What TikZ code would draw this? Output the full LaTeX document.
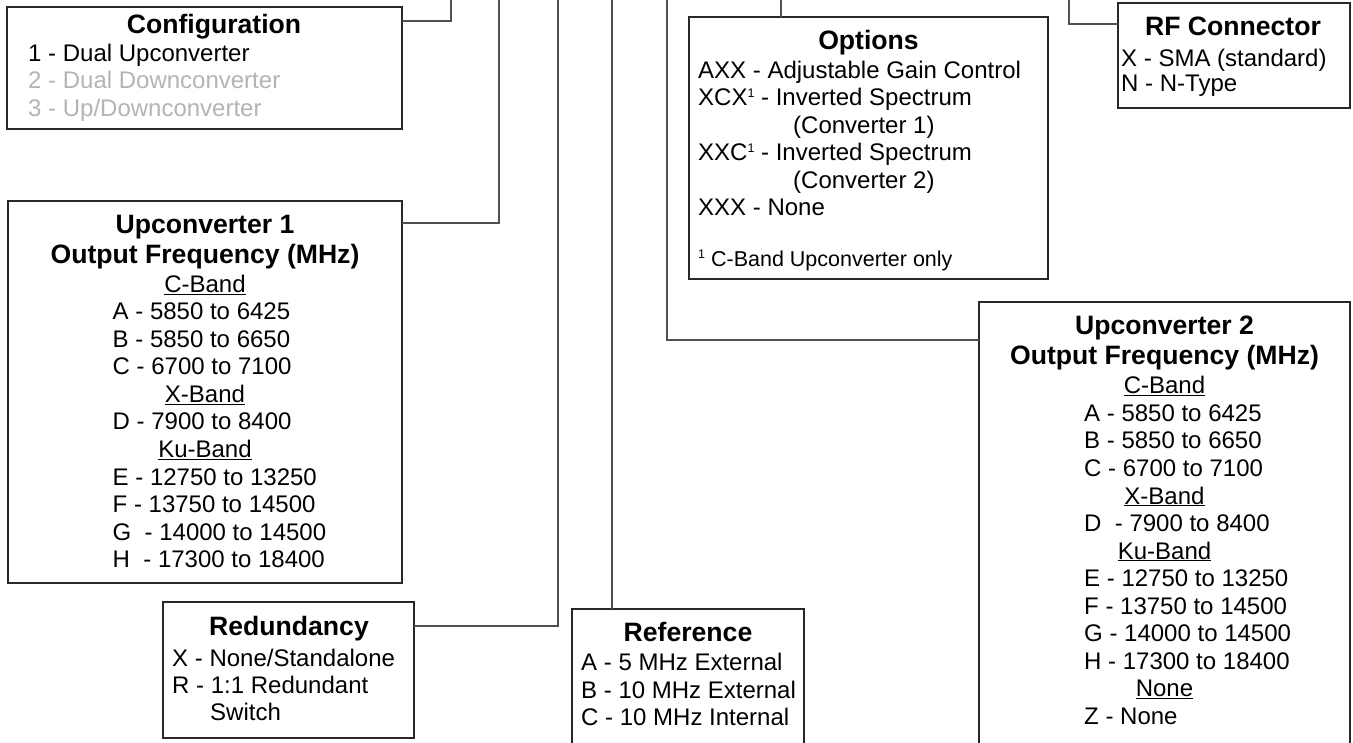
\documentclass[tikz,border=0pt]{standalone}
\usepackage{fontspec}
\setmainfont{Liberation Sans}
\definecolor{boxline}{RGB}{40,40,40}
\definecolor{connline}{RGB}{80,80,80}
\definecolor{dimtext}{RGB}{180,180,180}
\newcommand{\supone}{\raisebox{8.6pt}{\fontsize{12.5}{12.5}\selectfont 1}}
\begin{document}
\begin{tikzpicture}[x=1pt,y=-1pt,
  box/.style={draw=boxline,line width=1.3pt,inner sep=0pt,outer sep=0pt,anchor=north west,fill=none},
  conn/.style={draw=connline,line width=1.3pt},
  txt/.style={font=\fontsize{24}{27.5}\selectfont,inner sep=0pt,anchor=base west},
  ctr/.style={font=\fontsize{24}{27.5}\selectfont,inner sep=0pt,anchor=base},
  ttl/.style={font=\fontsize{26.6}{30}\selectfont\bfseries,inner sep=0pt,anchor=base},
  fnote/.style={font=\fontsize{21.5}{25}\selectfont,inner sep=0pt,anchor=base west},
  dim/.style={text=dimtext}]
\useasboundingbox (0,0) rectangle (1353,743);
\clip (0,0) rectangle (1353,743);
\fill[white] (0,0) rectangle (1353,743);

% boxes
\node[box,minimum width=395pt,minimum height=122pt] (cfg) at (7,7) {};
\node[box,minimum width=394pt,minimum height=382pt] (up1) at (8,201) {};
\node[box,minimum width=251pt,minimum height=136pt] (red) at (163,602) {};
\node[box,minimum width=232pt,minimum height=150pt] (ref) at (572,609) {};
\node[box,minimum width=371pt,minimum height=460pt] (up2) at (979,302) {};
\node[box,minimum width=359pt,minimum height=262pt] (opt) at (689,17) {};
\node[box,minimum width=232pt,minimum height=105pt] (rf) at (1118,3) {};

% free ends of connectors at the top edge
\coordinate (tcfg) at (451,0);
\coordinate (tup1) at (499,0);
\coordinate (tred) at (558,0);
\coordinate (tref) at (612,0);
\coordinate (tup2) at (667,0);
\coordinate (topt) at (781,0);
\coordinate (trf) at (1069,0);

% connectors
\draw[conn] ([yshift=-14pt]cfg.north east) -| (tcfg);
\draw[conn] ([yshift=-22pt]up1.north east) -| (tup1);
\draw[conn] ([yshift=-24pt]red.north east) -| (tred);
\draw[conn] (tref |- ref.north) -- (tref);
\draw[conn] ([yshift=-38pt]up2.north west) -| (tup2);
\draw[conn] (topt |- opt.north) -- (topt);
\draw[conn] ([yshift=-21pt]rf.north west) -| (trf);

% Configuration
\node[ttl] (cfgT) at (214,33.5) {Configuration};
\node[txt] (cfg1) at (28,61.5) {1 - Dual Upconverter};
\node[txt,dim] (cfg2) at (28,89) {2 - Dual Downconverter};
\node[txt,dim] (cfg3) at (28,116.5) {3 - Up/Downconverter};

% Upconverter 1
\node[ttl] (u1T) at (205,234) {Upconverter 1};
\node[ttl] (u1T2) at (205,264) {Output Frequency (MHz)};
\node[ctr] (u1h1) at (205,292.5) {\underline{C-Band}};
\node[txt] (u1a) at (112.5,320) {A - 5850 to 6425};
\node[txt] (u1b) at (112.5,347.5) {B - 5850 to 6650};
\node[txt] (u1c) at (112.5,375) {C - 6700 to 7100};
\node[ctr] (u1h2) at (205,402.5) {\underline{X-Band}};
\node[txt] (u1d) at (112.5,430) {D - 7900 to 8400};
\node[ctr] (u1h3) at (205,457.5) {\underline{Ku-Band}};
\node[txt] (u1e) at (112.5,485) {E - 12750 to 13250};
\node[txt] (u1f) at (112.5,512.5) {F - 13750 to 14500};
\node[txt] (u1g) at (112.5,540) {G~ - 14000 to 14500};
\node[txt] (u1hh) at (112.5,567.5) {H~ - 17300 to 18400};

% Redundancy
\node[ttl] (redT) at (289,635) {Redundancy};
\node[txt] (red1) at (172,666) {X - None/Standalone};
\node[txt] (red2) at (172,693.5) {R - 1:1 Redundant};
\node[txt] (red3) at (210,720) {Switch};

% Reference
\node[ttl] (refT) at (688,641.5) {Reference};
\node[txt] (ref1) at (581,670.5) {A - 5 MHz External};
\node[txt] (ref2) at (581,698) {B - 10 MHz External};
\node[txt] (ref3) at (581,725.5) {C - 10 MHz Internal};

% Options
\node[ttl] (optT) at (868.5,50) {Options};
\node[txt] (opt1) at (698,78.5) {AXX - Adjustable Gain Control};
\node[txt] (opt2) at (698,106) {XCX\supone{} - Inverted Spectrum};
\node[txt] (opt3) at (793,133.5) {(Converter 1)};
\node[txt] (opt4) at (698,161) {XXC\supone{} - Inverted Spectrum};
\node[txt] (opt5) at (793,188.5) {(Converter 2)};
\node[txt] (opt6) at (698,215.5) {XXX - None};
\node[fnote] (optn) at (698,266.5) {\raisebox{7.5pt}{\fontsize{12.5}{12.5}\selectfont 1} C-Band Upconverter only};

% RF Connector
\node[ttl] (rfT) at (1233,36) {RF Connector};
\node[txt] (rf1) at (1121,66.5) {X - SMA (standard)};
\node[txt] (rf2) at (1121,91.5) {N - N-Type};

% Upconverter 2
\node[ttl] (u2T) at (1164.5,334.5) {Upconverter 2};
\node[ttl] (u2T2) at (1164.5,365) {Output Frequency (MHz)};
\node[ctr] (u2h1) at (1164.5,394) {\underline{C-Band}};
\node[txt] (u2a) at (1084,421.5) {A - 5850 to 6425};
\node[txt] (u2b) at (1084,449) {B - 5850 to 6650};
\node[txt] (u2c) at (1084,476.5) {C - 6700 to 7100};
\node[ctr] (u2h2) at (1164.5,504) {\underline{X-Band}};
\node[txt] (u2d) at (1084,531.5) {D~ - 7900 to 8400};
\node[ctr] (u2h3) at (1164.5,559) {\underline{Ku-Band}};
\node[txt] (u2e) at (1084,586.5) {E - 12750 to 13250};
\node[txt] (u2f) at (1084,614) {F - 13750 to 14500};
\node[txt] (u2g) at (1084,641.5) {G - 14000 to 14500};
\node[txt] (u2hh) at (1084,669) {H - 17300 to 18400};
\node[ctr] (u2h4) at (1164.5,696.5) {\underline{None}};
\node[txt] (u2z) at (1084,724) {Z - None};
\end{tikzpicture}
\end{document}
